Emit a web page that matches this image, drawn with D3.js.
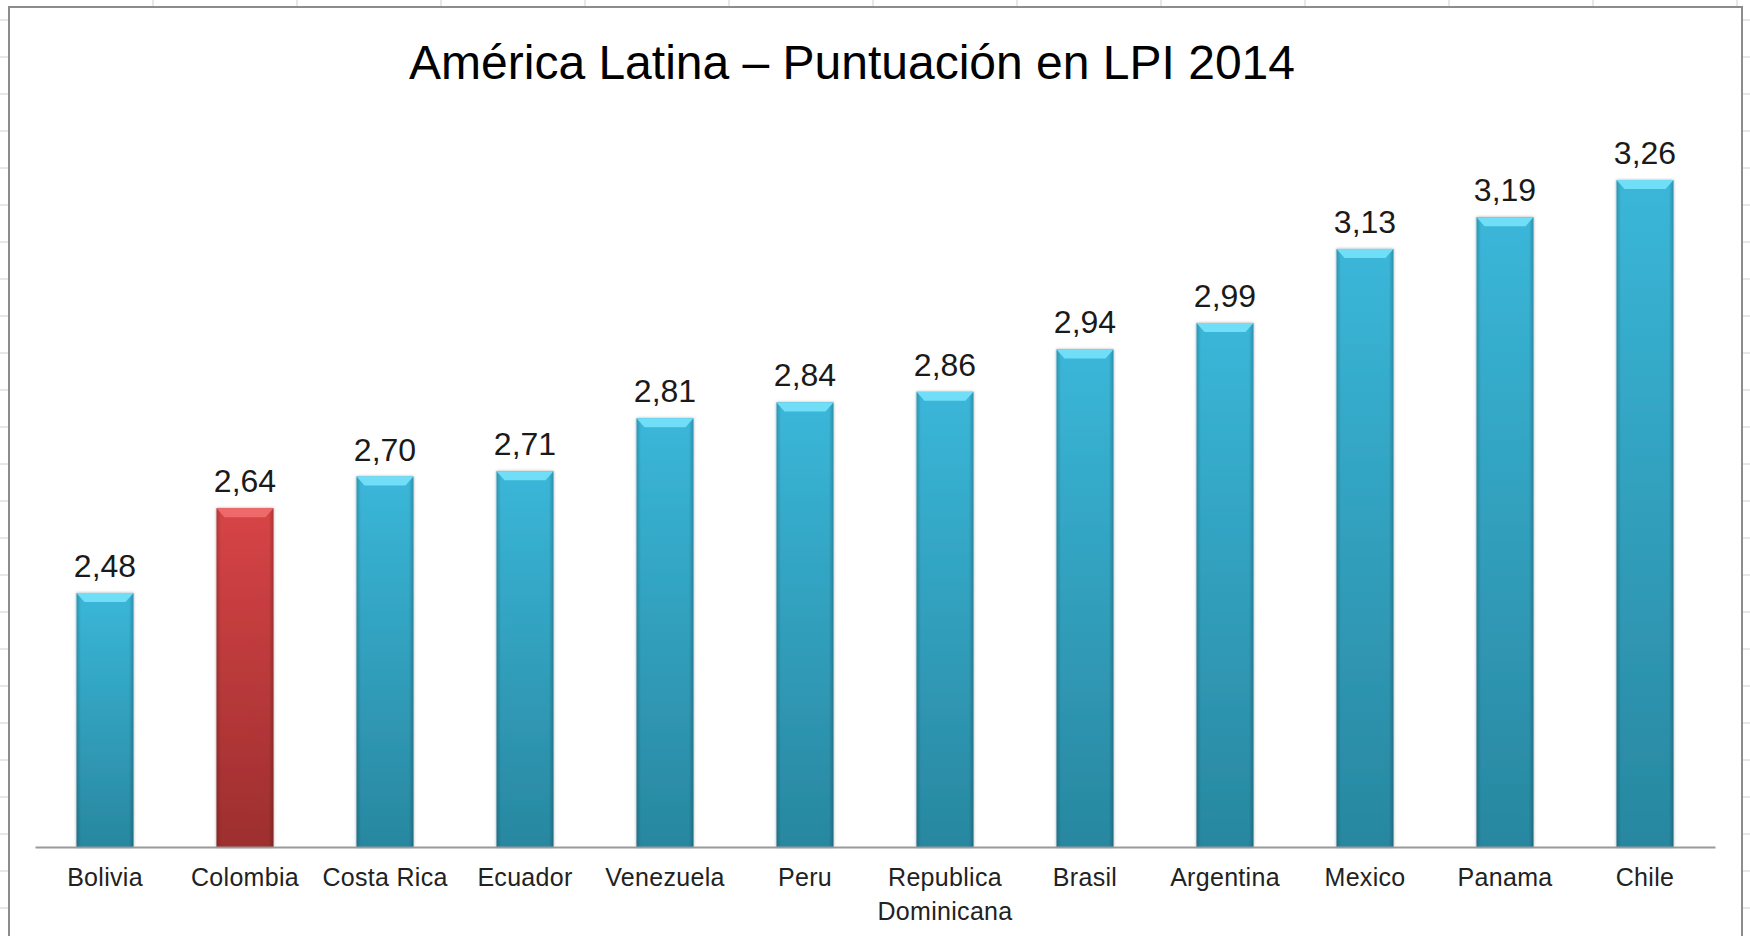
<!DOCTYPE html>
<html>
<head>
<meta charset="utf-8">
<script src="https://cdn.jsdelivr.net/npm/d3@7"></script>
<style>
  body { margin: 0; background: #fff; }
  svg { display: block; }
</style>
</head>
<body>
<div id="chart"></div>
<script>
const countries = ["Bolivia", "Colombia", "Costa Rica", "Ecuador", "Venezuela", "Peru",
  "Republica Dominicana", "Brasil", "Argentina", "Mexico", "Panama", "Chile"];
const lpiScores = [2.48, 2.64, 2.70, 2.71, 2.81, 2.84, 2.86, 2.94, 2.99, 3.13, 3.19, 3.26];
const highlight = ["Colombia"];
const yDomain = [2, 3.4];
const chartTitle = "América Latina – Puntuación en LPI 2014";

const data = countries.map((c, i) => ({ country: c, score: lpiScores[i] }));

const width = 1750, height = 936;
const svg = d3.select("#chart").append("svg")
  .attr("width", width)
  .attr("height", height);

const defs = svg.append("defs");

// vertical gradients for bar bodies
const grads = [
  { id: "blueBody", top: "#3dc0e4", bottom: "#2a8ea8" },
  { id: "redBody", top: "#e2474a", bottom: "#a53131" }
];
grads.forEach(g => {
  const lg = defs.append("linearGradient").attr("id", g.id)
    .attr("x1", 0).attr("y1", 0).attr("x2", 0).attr("y2", 1);
  lg.append("stop").attr("offset", "0%").attr("stop-color", g.top);
  lg.append("stop").attr("offset", "100%").attr("stop-color", g.bottom);
});

// dark side edges
const side = defs.append("linearGradient").attr("id", "sides")
  .attr("x1", 0).attr("y1", 0).attr("x2", 1).attr("y2", 0);
side.append("stop").attr("offset", "0%").attr("stop-color", "#000").attr("stop-opacity", 0.22);
side.append("stop").attr("offset", "8%").attr("stop-color", "#000").attr("stop-opacity", 0.05);
side.append("stop").attr("offset", "92%").attr("stop-color", "#000").attr("stop-opacity", 0.05);
side.append("stop").attr("offset", "100%").attr("stop-color", "#000").attr("stop-opacity", 0.25);

const shadow = defs.append("filter").attr("id", "shadow")
  .attr("x", "-20%").attr("y", "-5%").attr("width", "140%").attr("height", "110%");
shadow.append("feDropShadow").attr("dx", 0).attr("dy", 0).attr("stdDeviation", 1.6)
  .attr("flood-color", "#000").attr("flood-opacity", 0.35);

// chart frame + spreadsheet grid ticks peeking around it
const frame = svg.append("g");
d3.range(20, height, 37).forEach(y => {
  frame.append("line").attr("x1", 0).attr("x2", 8).attr("y1", y).attr("y2", y)
    .attr("stroke", "#d0d0d0");
  frame.append("line").attr("x1", 1743).attr("x2", 1750).attr("y1", y).attr("y2", y)
    .attr("stroke", "#d0d0d0");
});
d3.range(153, width, 144).forEach(x => {
  frame.append("line").attr("x1", x).attr("x2", x).attr("y1", 0).attr("y2", 6)
    .attr("stroke", "#d0d0d0");
});
frame.append("rect")
  .attr("x", 9).attr("y", 7).attr("width", 1733).attr("height", 940)
  .attr("fill", "#fff").attr("stroke", "#8c8c8c").attr("stroke-width", 2);

const x = d3.scaleBand()
  .domain(countries)
  .range([35, 1715])
  .paddingInner(0.593)
  .paddingOuter(0.2965);

const y = d3.scaleLinear()
  .domain(yDomain)
  .range([847, 106]);

// title
svg.append("text")
  .attr("x", 852).attr("y", 79)
  .attr("text-anchor", "middle")
  .style("font-family", "'Liberation Sans', Arial, sans-serif")
  .style("font-size", "48px")
  .attr("fill", "#000")
  .text(chartTitle);

const bars = svg.append("g")
  .selectAll("g")
  .data(data)
  .join("g")
  .attr("transform", d => `translate(${x(d.country)},${y(d.score)})`);

const bw = x.bandwidth();

bars.append("rect")
  .attr("width", bw)
  .attr("height", d => y(yDomain[0]) - y(d.score))
  .attr("fill", d => highlight.includes(d.country) ? "url(#redBody)" : "url(#blueBody)")
  .attr("filter", "url(#shadow)");

bars.append("rect")
  .attr("width", bw)
  .attr("height", d => y(yDomain[0]) - y(d.score))
  .attr("fill", "url(#sides)");

// bevelled top
bars.append("path")
  .attr("d", `M0,0 L${bw},0 L${bw - 8},9 L8,9 Z`)
  .attr("fill", d => highlight.includes(d.country) ? "#ee6a6a" : "#70def7");

// value labels
bars.append("text")
  .attr("x", bw / 2)
  .attr("y", -16)
  .attr("text-anchor", "middle")
  .style("font-family", "'Liberation Sans', Arial, sans-serif")
  .style("font-size", "32px")
  .attr("fill", "#1a1a1a")
  .text(d => d3.format(".2f")(d.score).replace(".", ","));

// x axis
const xAxis = svg.append("g")
  .attr("transform", `translate(0,${y(yDomain[0])})`)
  .call(d3.axisBottom(x).tickSize(0).tickFormat(""));
xAxis.select(".domain").attr("stroke", "#9a9a9a").attr("stroke-width", 2);

xAxis.selectAll(".tick")
  .append("text")
  .attr("text-anchor", "middle")
  .style("font-family", "'Liberation Sans', Arial, sans-serif")
  .style("font-size", "25px")
  .style("letter-spacing", "0.3px")
  .attr("fill", "#222")
  .selectAll("tspan")
  .data(d => d === "Republica Dominicana" ? ["Republica", "Dominicana"] : [d])
  .join("tspan")
  .attr("x", 0)
  .attr("y", (d, i) => 39 + i * 34)
  .text(d => d);
</script>
</body>
</html>
